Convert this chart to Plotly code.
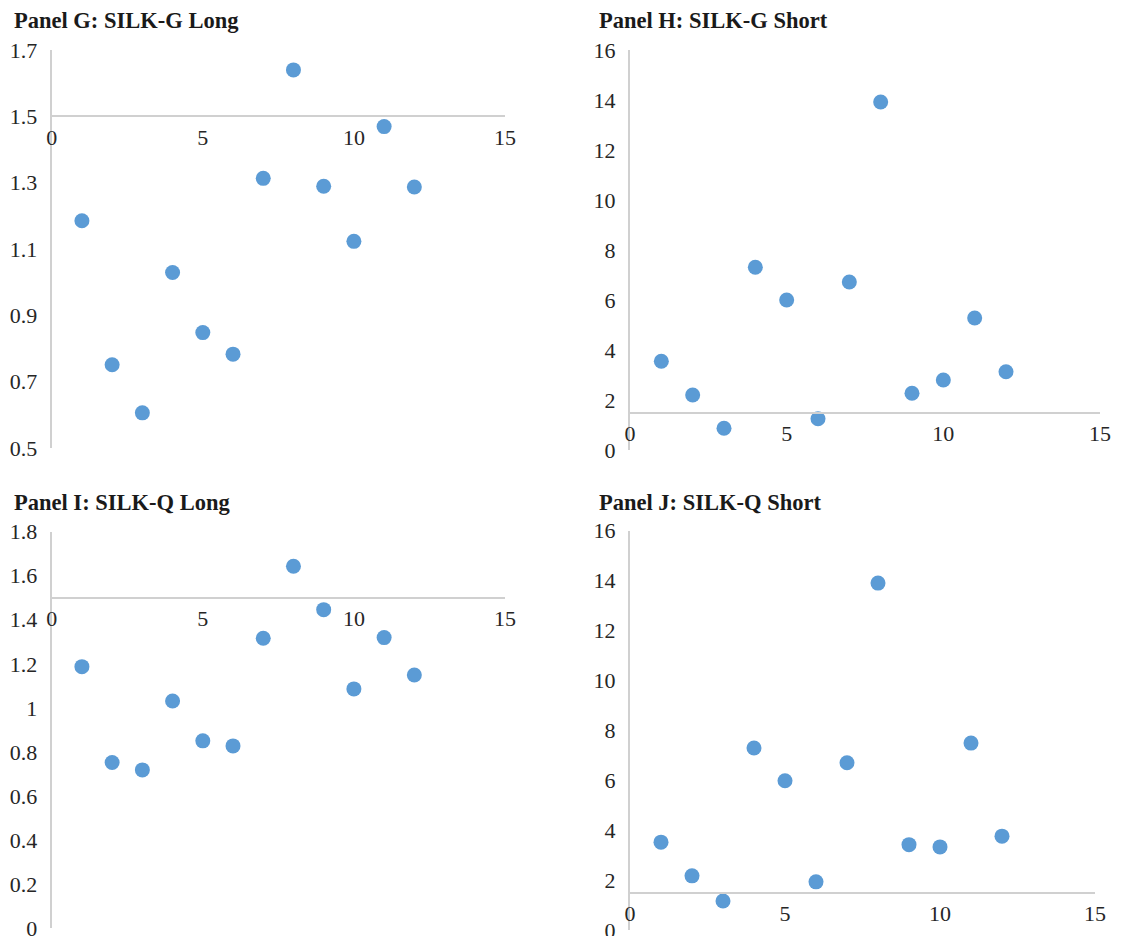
import plotly.graph_objects as go

# ---------------- data ----------------
x_vals = [1, 2, 3, 4, 5, 6, 7, 8, 9, 10, 11, 12]
g_long = [1.185, 0.751, 0.606, 1.029, 0.848, 0.783, 1.313, 1.640, 1.289, 1.123, 1.469, 1.287]
g_short = [3.55, 2.20, 0.87, 7.31, 6.00, 1.25, 6.72, 13.92, 2.27, 2.80, 5.28, 3.13]
q_long = [1.187, 0.752, 0.718, 1.031, 0.850, 0.827, 1.316, 1.643, 1.446, 1.086, 1.319, 1.149]
q_short = [3.52, 2.17, 1.16, 7.29, 5.98, 1.93, 6.70, 13.90, 3.42, 3.33, 7.49, 3.76]

titles = ["Panel G: SILK-G Long", "Panel H: SILK-G Short",
          "Panel I: SILK-Q Long", "Panel J: SILK-Q Short"]

x_ticks = [0, 5, 10, 15]
g_long_ticks = [0.5, 0.7, 0.9, 1.1, 1.3, 1.5, 1.7]
g_long_ticktext = ["0.5", "0.7", "0.9", "1.1", "1.3", "1.5", "1.7"]
q_long_ticks = [0, 0.2, 0.4, 0.6, 0.8, 1.0, 1.2, 1.4, 1.6, 1.8]
q_long_ticktext = ["0", "0.2", "0.4", "0.6", "0.8", "1", "1.2", "1.4", "1.6", "1.8"]
short_ticks = [0, 2, 4, 6, 8, 10, 12, 14, 16]
short_ticktext = ["0", "2", "4", "6", "8", "10", "12", "14", "16"]

x_cross = 1.5  # value where the horizontal axis crosses the vertical axis

# ---------------- layout ----------------
W, H = 1125, 936
FONT = "Liberation Serif"
MARKER = "#5B9BD5"
AXIS_COL = "#D0D0D0"
TICK_COL = "#262626"

def px_x(p):
    return p / W

def px_y(p):
    return 1 - p / H

panels = [
    dict(y=g_long, yr=[0.5, 1.7], tv=g_long_ticks, tt=g_long_ticktext,
         xd=(51.7, 505), yd=(50, 448), tpos=(12, 20)),
    dict(y=g_short, yr=[0, 16], tv=short_ticks, tt=short_ticktext,
         xd=(630, 1100), yd=(50, 450), tpos=(597, 20)),
    dict(y=q_long, yr=[0, 1.8], tv=q_long_ticks, tt=q_long_ticktext,
         xd=(51.7, 505), yd=(531.7, 928), tpos=(12, 502)),
    dict(y=q_short, yr=[0, 16], tv=short_ticks, tt=short_ticktext,
         xd=(630, 1095), yd=(530.7, 930), tpos=(597, 502)),
]

fig = go.Figure()
annotations = []
for i, p in enumerate(panels):
    n = "" if i == 0 else str(i + 1)
    xa, ya = "xaxis" + n, "yaxis" + n
    fig.add_trace(go.Scatter(
        x=x_vals, y=p["y"], mode="markers",
        marker=dict(color=MARKER, size=15, line=dict(width=0)),
        xaxis="x" + n, yaxis="y" + n, showlegend=False, cliponaxis=False,
    ))
    y0 = px_y(p["yd"][1])
    y1 = px_y(p["yd"][0])
    lo, hi = p["yr"]
    pos = y0 + (x_cross - lo) / (hi - lo) * (y1 - y0)
    fig.layout[xa] = dict(
        domain=[px_x(p["xd"][0]), px_x(p["xd"][1])],
        range=[0, 15], anchor="free", position=pos, automargin=False,
        showline=True, linecolor=AXIS_COL, linewidth=2,
        showgrid=False, zeroline=False, ticks="",
        tickvals=x_ticks, ticktext=[str(v) for v in x_ticks],
        tickfont=dict(family=FONT, size=22, color=TICK_COL),
        ticklabelstandoff=1, ticklabeloverflow="allow",
    )
    fig.layout[ya] = dict(
        domain=[y0, y1], range=p["yr"], anchor="x" + n, automargin=False,
        showline=True, linecolor=AXIS_COL, linewidth=2,
        showgrid=False, zeroline=False, ticks="",
        tickvals=p["tv"], ticktext=p["tt"],
        tickfont=dict(family=FONT, size=22, color=TICK_COL),
        ticklabelstandoff=8, ticklabeloverflow="allow",
    )
    annotations.append(dict(
        text="<b>" + titles[i] + "</b>", showarrow=False,
        xref="paper", yref="paper",
        x=px_x(p["tpos"][0]), y=px_y(p["tpos"][1]),
        xanchor="left", yanchor="middle",
        font=dict(family=FONT, size=22.5, color="#1a1a1a"),
    ))

fig.update_layout(
    width=W, height=H, margin=dict(l=0, r=0, t=0, b=0, autoexpand=False),
    paper_bgcolor="white", plot_bgcolor="white",
    annotations=annotations, showlegend=False,
)

fig.write_html(
    "out.html",
    config={"displayModeBar": False},
    post_script="document.body.style.margin='0';document.body.style.overflow='hidden';",
)
